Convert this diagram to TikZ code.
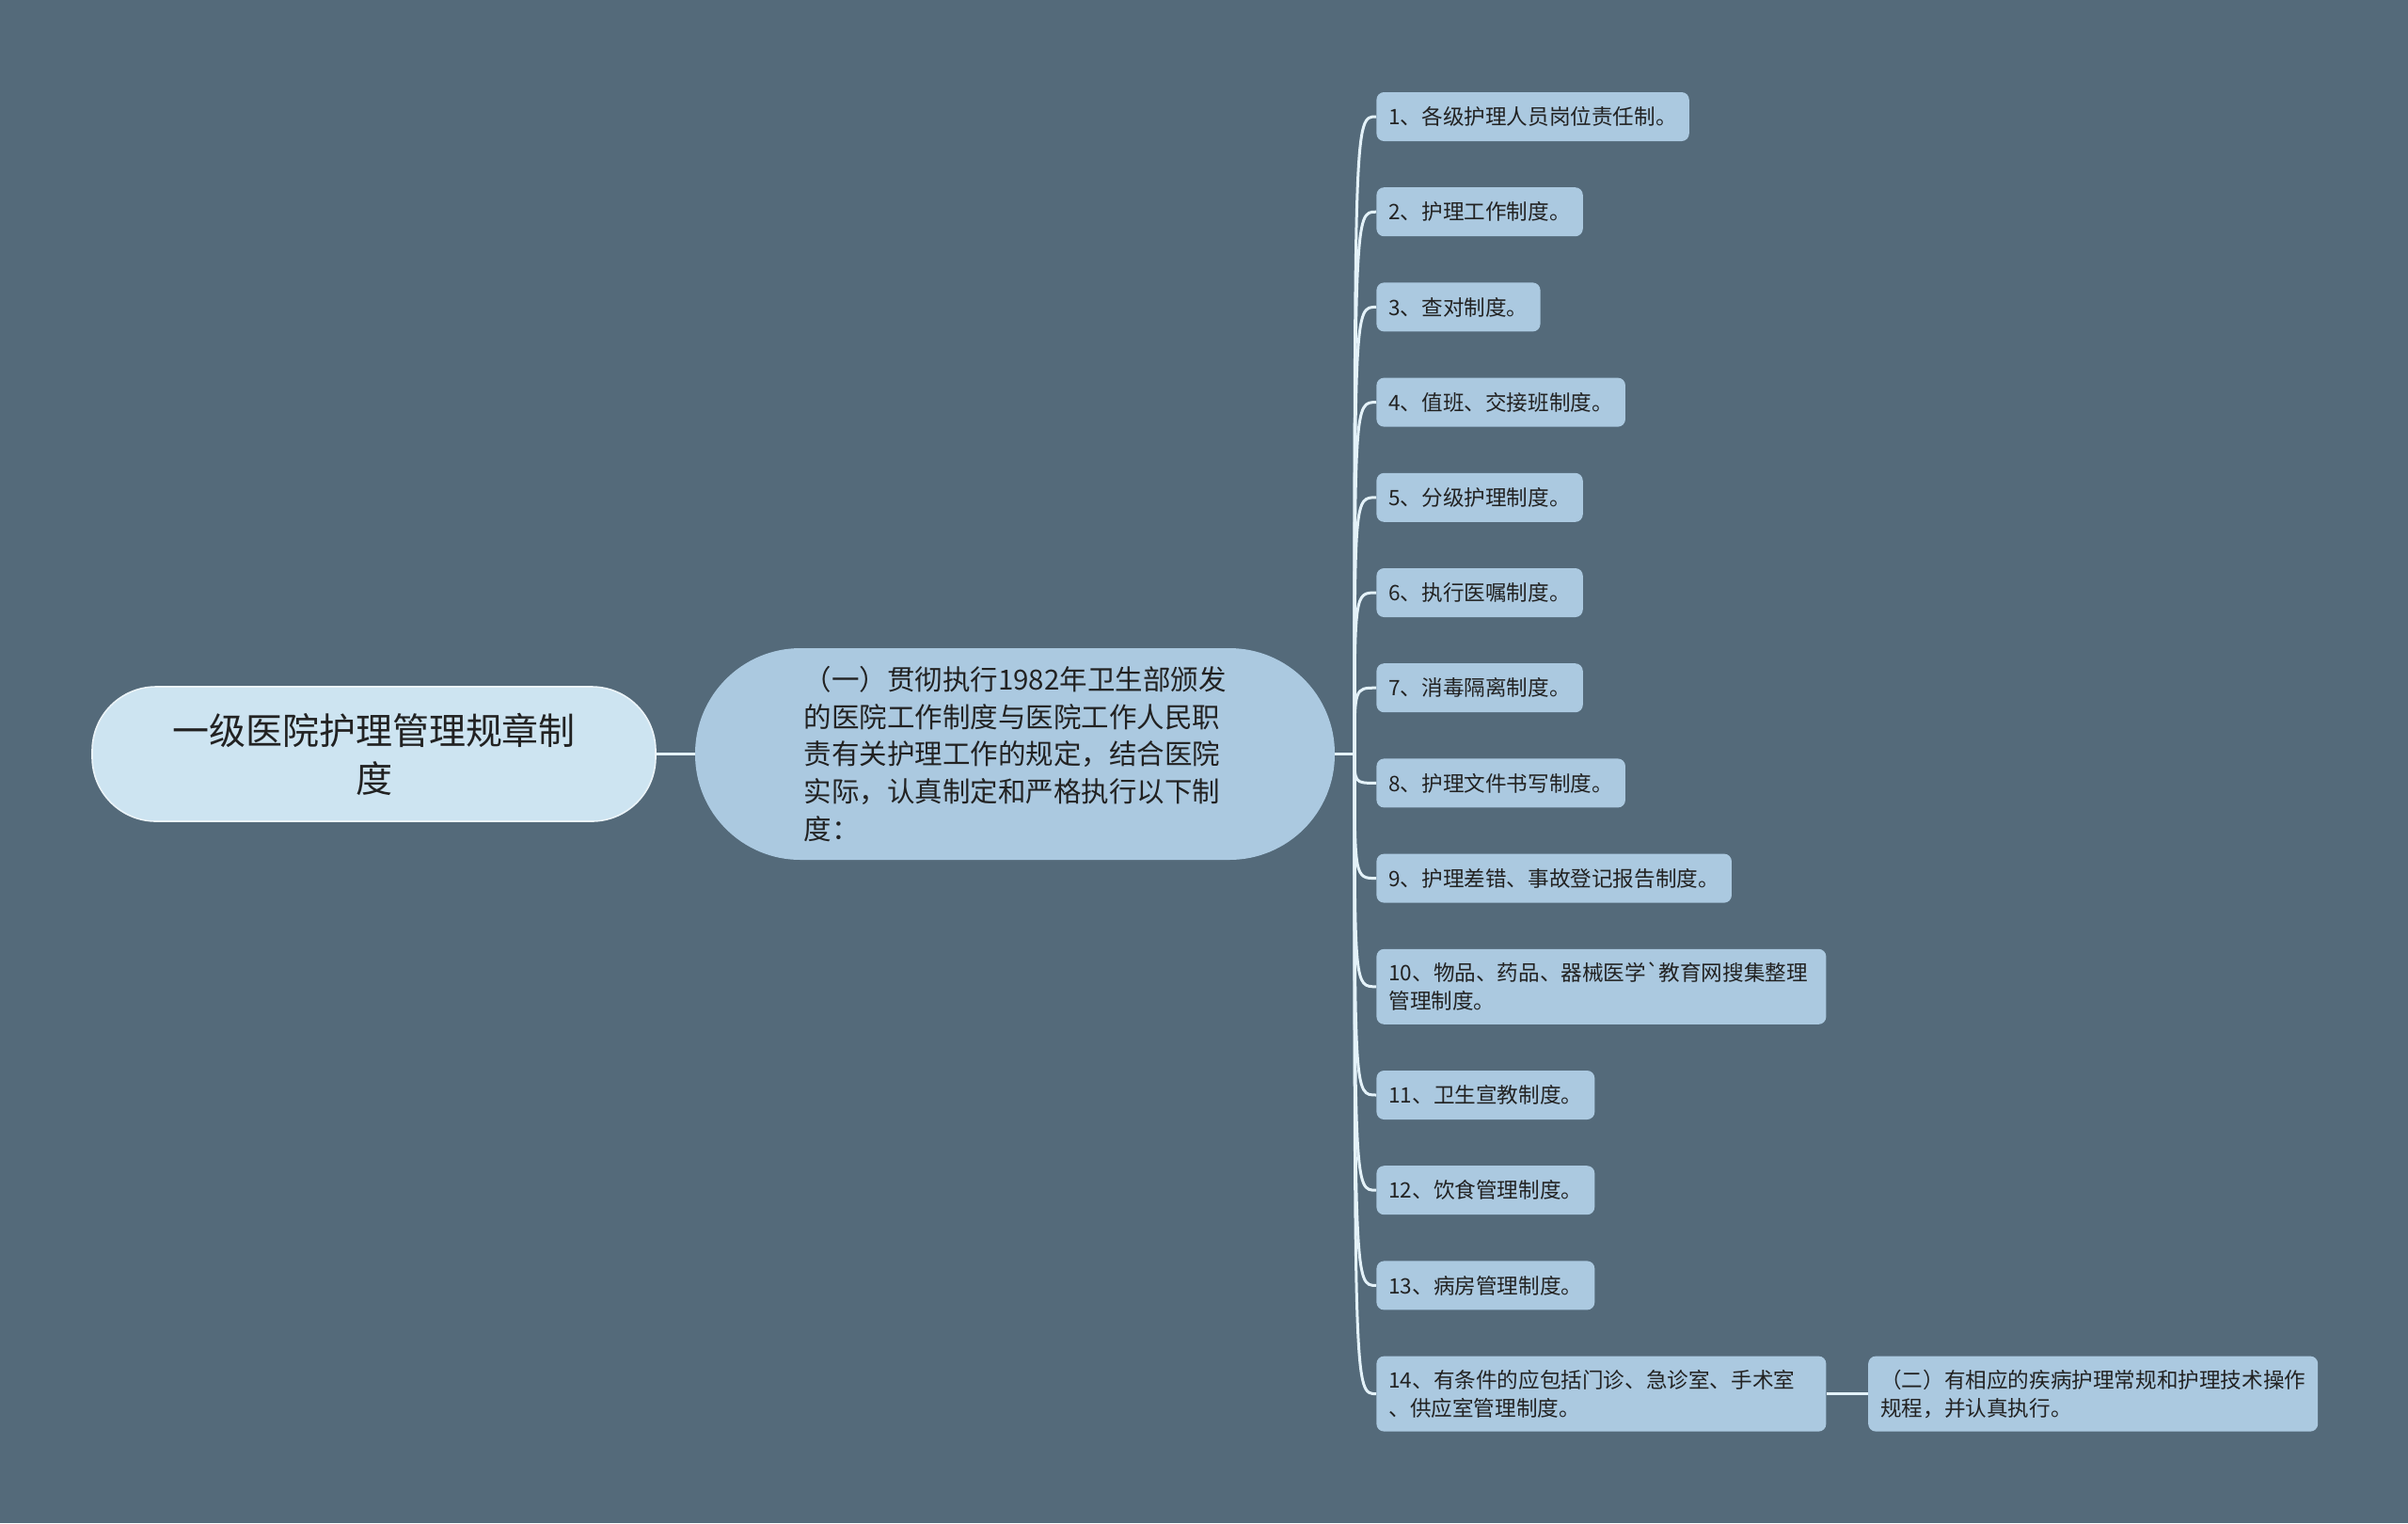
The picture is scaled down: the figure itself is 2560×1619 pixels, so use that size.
\documentclass[tikz,border=0pt]{standalone}
\usepackage{fontspec}
\setmainfont{Noto Sans CJK SC}[Ligatures=TeXOff]
\usetikzlibrary{positioning}

\definecolor{bgcol}{HTML}{546A7A}
\definecolor{rootfill}{HTML}{CDE4F1}
\definecolor{subfill}{HTML}{ABC9E0}
\definecolor{linkcol}{HTML}{E4F2F9}
\definecolor{txtcol}{HTML}{222222}

\begin{document}
\begin{tikzpicture}[
    x=0.5pt, y=-0.5pt,
    node distance=24.2pt,
    every node/.style={text=txtcol},
    rootbox/.style={rectangle, fill=rootfill, draw=white!60!rootfill, line width=0.8pt, rounded corners=34pt, minimum width=299.5pt, minimum height=71.5pt, align=center, font=\fontsize{19.5}{25.5}\selectfont},
    mainbox/.style={rectangle, fill=subfill, rounded corners=56pt, minimum width=340pt, minimum height=112.5pt, align=left, font=\fontsize{14.75}{19.85}\selectfont},
    leaf/.style={rectangle, fill=subfill, rounded corners=4pt, inner xsep=6.5pt, inner ysep=2pt, minimum height=26pt, align=left, font=\fontsize{11.3}{15}\selectfont},
    wideleaf/.style={leaf, text width=226pt, minimum height=40pt},
    link/.style={draw=linkcol, line width=1.5pt}
]

% Background
\fill[bgcol] (0,0) rectangle (2560,1619);
\useasboundingbox (0,0) rectangle (2560,1619);

% Root
\node[rootbox] (root) at (397.5,801.5) {一级医院护理管理规章制\\度};

% Main branch
\node[mainbox] (main) at (1079,801.5) {（一）贯彻执行1982年卫生部颁发\\的医院工作制度与医院工作人民职\\责有关护理工作的规定，结合医院\\实际，认真制定和严格执行以下制\\度：};
\coordinate (j) at (1440,801.5);

% Rules
\node[leaf, anchor=west] (b1) at (1463,124) {1、各级护理人员岗位责任制。};
\node[leaf, below=of b1.south west, anchor=north west] (b2) {2、护理工作制度。};
\node[leaf, below=of b2.south west, anchor=north west] (b3) {3、查对制度。};
\node[leaf, below=of b3.south west, anchor=north west] (b4) {4、值班、交接班制度。};
\node[leaf, below=of b4.south west, anchor=north west] (b5) {5、分级护理制度。};
\node[leaf, below=of b5.south west, anchor=north west] (b6) {6、执行医嘱制度。};
\node[leaf, below=of b6.south west, anchor=north west] (b7) {7、消毒隔离制度。};
\node[leaf, below=of b7.south west, anchor=north west] (b8) {8、护理文件书写制度。};
\node[leaf, below=of b8.south west, anchor=north west] (b9) {9、护理差错、事故登记报告制度。};
\node[wideleaf, below=of b9.south west, anchor=north west] (b10) {10、物品、药品、器械医学`教育网搜集整理\\管理制度。};
\node[leaf, below=of b10.south west, anchor=north west] (b11) {11、卫生宣教制度。};
\node[leaf, below=of b11.south west, anchor=north west] (b12) {12、饮食管理制度。};
\node[leaf, below=of b12.south west, anchor=north west] (b13) {13、病房管理制度。};
\node[wideleaf, below=of b13.south west, anchor=north west] (b14) {14、有条件的应包括门诊、急诊室、手术室\\、供应室管理制度。};

% Second item
\node[leaf, right=22pt of b14, minimum height=40pt] (sub) {（二）有相应的疾病护理常规和护理技术操作\\规程，并认真执行。};

% Links
\draw[link] (root) -- (main);
\draw[link] (main.east) -- (j);
\draw[link] (j) .. controls (j |- b1.west) .. (b1.west);
\draw[link] (j) .. controls (j |- b2.west) .. (b2.west);
\draw[link] (j) .. controls (j |- b3.west) .. (b3.west);
\draw[link] (j) .. controls (j |- b4.west) .. (b4.west);
\draw[link] (j) .. controls (j |- b5.west) .. (b5.west);
\draw[link] (j) .. controls (j |- b6.west) .. (b6.west);
\draw[link] (j) .. controls (j |- b7.west) .. (b7.west);
\draw[link] (j) .. controls (j |- b8.west) .. (b8.west);
\draw[link] (j) .. controls (j |- b9.west) .. (b9.west);
\draw[link] (j) .. controls (j |- b10.west) .. (b10.west);
\draw[link] (j) .. controls (j |- b11.west) .. (b11.west);
\draw[link] (j) .. controls (j |- b12.west) .. (b12.west);
\draw[link] (j) .. controls (j |- b13.west) .. (b13.west);
\draw[link] (j) .. controls (j |- b14.west) .. (b14.west);
\draw[link] (b14) -- (sub);

\end{tikzpicture}
\end{document}
